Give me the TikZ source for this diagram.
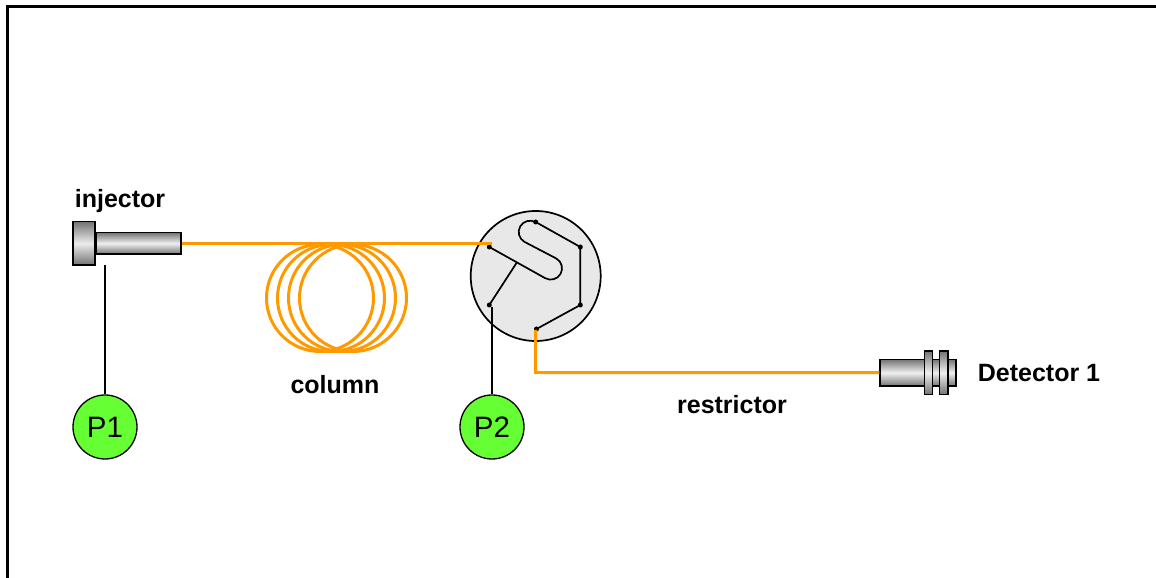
\documentclass[tikz,border=0pt]{standalone}
\usepackage{fontspec}
\setmainfont{Liberation Sans}
\tikzset{
  x=1pt,y=1pt,
  frameline/.style={line width=3pt,black},
  tube/.style={line width=3pt,draw=tubeorange},
  wire/.style={line width=1.1pt,black},
  valveline/.style={line width=1.7pt,black,line join=round},
  port/.style={circle,fill=black,inner sep=0pt,minimum size=5pt},
  pump/.style={circle,draw=black,line width=1.3pt,fill=pumpgreen,minimum size=64pt,inner sep=0pt,font=\fontsize{29.5}{32}\selectfont},
  metal/.style={draw=black,line width=1.5pt,top color=gray!90!black,bottom color=gray!90!black,middle color=gray!12},
  lab/.style={font=\fontsize{25}{28}\selectfont\bfseries,anchor=base,inner sep=0pt},
}
\definecolor{tubeorange}{HTML}{FF9900}
\definecolor{pumpgreen}{HTML}{66FF33}
\definecolor{valvegray}{HTML}{E8E8E8}
\begin{document}
\begin{tikzpicture}
\useasboundingbox (0,0) rectangle (1156,578);
% frame
\coordinate (fb) at (7.5,0);
\coordinate (fc) at (7.5,571.5);
\coordinate (fr) at (1156,571.5);
\draw[frameline,line join=miter] (fb) -- (fc) -- (fr);
% column coil
\foreach \cx in {320,331,342,353}
  \draw[tube] (\cx,280) circle[radius=53.5];
% valve body
\node[circle,draw=black,line width=1.7pt,fill=valvegray,minimum size=130pt,inner sep=0pt] (valve) at (535.7,302) {};
% ports
\node[port] (pa) at (489.3,331) {};
\node[port] (pb) at (535.7,356) {};
\node[port] (pc) at (580.3,331) {};
\node[port] (pd) at (580.3,273) {};
\node[port] (pe) at (536.5,249) {};
\node[port] (pf) at (489.3,273) {};
\coordinate (junction) at (516.7,315.3);
% valve internals
\draw[valveline] (pa.center) -- (545.05,299.9) arc[start angle=240,end angle=420,radius=11.3]
  -- (524.35,336.2) arc[start angle=240,end angle=60,radius=11.3] -- (pb.center)
  -- (pc.center) -- (pd.center) -- (pe.center);
\draw[valveline] (pf.center) -- (junction);
% injector
\node[metal,minimum width=85pt,minimum height=21.5pt,inner sep=0pt,anchor=west] (barrel) at (95,334.7) {};
\node[metal,minimum width=22.3pt,minimum height=43.4pt,inner sep=0pt,anchor=center,middle color=gray!15] (flange) at (83.9,334.7) {};
% detector
\node[metal,minimum width=75.8pt,minimum height=26.7pt,inner sep=0pt,anchor=west] (det) at (879.3,205.3) {};
\node[metal,minimum width=8.4pt,minimum height=43.3pt,inner sep=0pt] (detf1) at (928.5,205.3) {};
\node[metal,minimum width=8.7pt,minimum height=43.3pt,inner sep=0pt] (detf2) at (943.6,205.3) {};
% tubing
\coordinate (tubein) at (492,334.7);
\coordinate (tubetop) at (535.5,248);
\coordinate (tubecorner) at (535.5,205.5);
\draw[tube] (barrel.east) -- (tubein);
\draw[tube,line join=miter] (tubetop) -- (tubecorner) -- (det.west);
% pumps
\node[pump] (p1) at (105,151) {P1};
\node[pump] (p2) at (492,151) {P2};
\coordinate (p1top) at (105,313.3);
\coordinate (p2top) at (492,271);
\draw[wire] (p1top) -- (p1.north);
\draw[wire] (p2top) -- (p2.north);
% labels
\node[lab] (linj) at (120,370.5) {injector};
\node[lab] (lcol) at (335,184.3) {column};
\node[lab] (lres) at (732,164) {restrictor};
\node[lab] (ldet) at (1039,196) {Detector 1};
\end{tikzpicture}
\end{document}
